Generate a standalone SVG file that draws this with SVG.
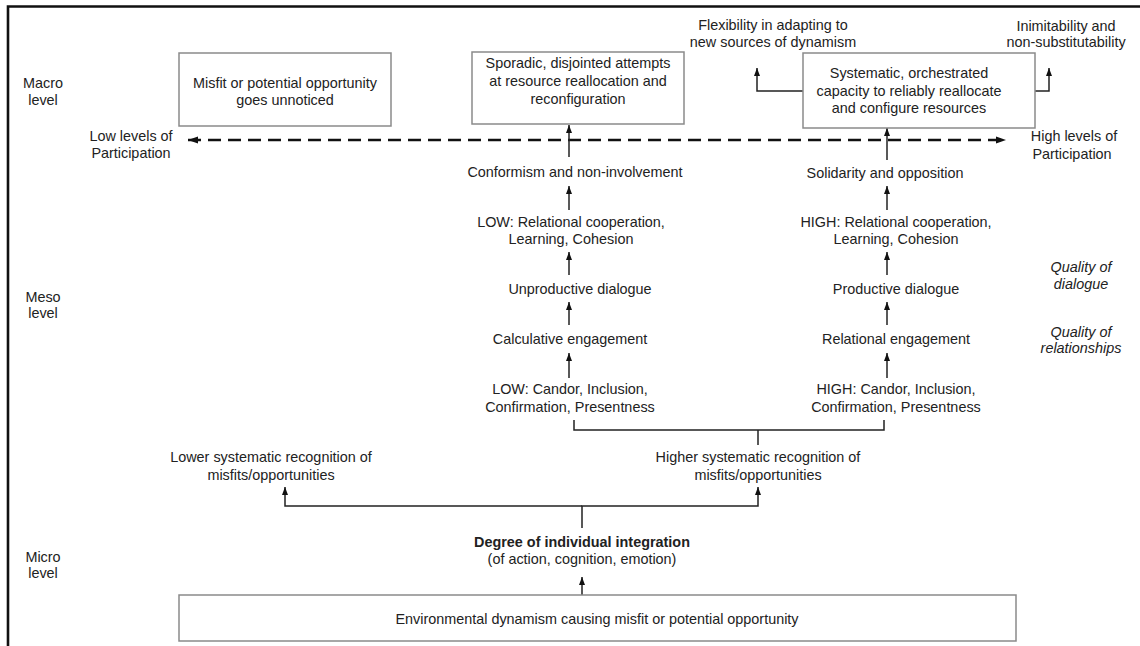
<svg xmlns="http://www.w3.org/2000/svg" width="1140" height="646" viewBox="0 0 1140 646">
<style>
text{font-family:"Liberation Sans",Arial,Helvetica,sans-serif;font-size:14.4px;fill:#222;text-anchor:middle}
.it{font-style:italic}
.b{font-weight:bold}
.box{fill:#fff;stroke:#8a8a8a;stroke-width:1.5}
.ln{fill:none;stroke:#222;stroke-width:1.5}
.dash{fill:none;stroke:#111;stroke-width:2.6;stroke-dasharray:13 7}
.frame{fill:none;stroke:#111;stroke-width:2.6}
</style>
<defs>
<marker id="ah" viewBox="0 0 8 8" refX="8" refY="4" markerWidth="8" markerHeight="8" markerUnits="userSpaceOnUse" orient="auto">
<path d="M0,1 L8,4 L0,7 z" fill="#111"/>
</marker>
<marker id="ahd" viewBox="0 0 10 8" refX="10" refY="4" markerWidth="10" markerHeight="8" markerUnits="userSpaceOnUse" orient="auto-start-reverse">
<path d="M0,0.5 L10,4 L0,7.5 z" fill="#111"/>
</marker>
</defs>
<rect width="1140" height="646" fill="#fff"/>
<path class="frame" d="M8,646 V6.5 H1140"/>

<g id="connectors">
<line class="dash" x1="188" y1="140" x2="1006" y2="140" marker-start="url(#ahd)" marker-end="url(#ahd)"/>
<path class="ln" d="M803,91 H757 V68" marker-end="url(#ah)"/>
<path class="ln" d="M1035,91 H1049 V68" marker-end="url(#ah)"/>
<path class="ln" d="M569,157 V125" marker-end="url(#ah)"/>
<path class="ln" d="M569,210 V186" marker-end="url(#ah)"/>
<path class="ln" d="M569,275 V252" marker-end="url(#ah)"/>
<path class="ln" d="M569,325 V302" marker-end="url(#ah)"/>
<path class="ln" d="M569,378 V353" marker-end="url(#ah)"/>
<path class="ln" d="M887,160 V128" marker-end="url(#ah)"/>
<path class="ln" d="M887,210 V186" marker-end="url(#ah)"/>
<path class="ln" d="M887,275 V252" marker-end="url(#ah)"/>
<path class="ln" d="M887,325 V302" marker-end="url(#ah)"/>
<path class="ln" d="M887,378 V353" marker-end="url(#ah)"/>
<path class="ln" d="M574,420 V430 H884 V420"/>
<path class="ln" d="M758,430 V445"/>
<path class="ln" d="M582,528 V506 H758 V487" marker-end="url(#ah)"/>
<path class="ln" d="M582,506 H285 V487" marker-end="url(#ah)"/>
<path class="ln" d="M582,596 V577" marker-end="url(#ah)"/>
</g>

<g id="level-macro"><text x="43" y="88">Macro</text><text x="43" y="105">level</text></g>
<g id="level-meso"><text x="43" y="302">Meso</text><text x="43" y="318">level</text></g>
<g id="level-micro"><text x="43" y="562">Micro</text><text x="43" y="578">level</text></g>

<g id="box-unnoticed">
<rect class="box" x="179" y="53" width="212" height="73"/>
<text x="285" y="88">Misfit or potential opportunity</text>
<text x="285" y="105">goes unnoticed</text>
</g>
<g id="box-sporadic">
<rect class="box" x="472" y="52" width="212" height="72"/>
<text x="578" y="68">Sporadic, disjointed attempts</text>
<text x="578" y="86">at resource reallocation and</text>
<text x="578" y="104">reconfiguration</text>
</g>
<g id="box-systematic">
<rect class="box" x="803" y="53" width="232" height="75"/>
<text x="909" y="78">Systematic, orchestrated</text>
<text x="909" y="96">capacity to reliably reallocate</text>
<text x="909" y="113">and configure resources</text>
</g>
<g id="flexibility"><text x="773" y="30">Flexibility in adapting to</text><text x="773" y="47">new sources of dynamism</text></g>
<g id="inimitability"><text x="1066" y="31">Inimitability and</text><text x="1066" y="47">non-substitutability</text></g>
<g id="low-participation"><text x="131" y="141">Low levels of</text><text x="131" y="158">Participation</text></g>
<g id="high-participation"><text x="1074" y="141">High levels of</text><text x="1072" y="159">Participation</text></g>

<g id="conformism"><text x="575" y="177">Conformism and non-involvement</text></g>
<g id="low-relational"><text x="571" y="227">LOW: Relational cooperation,</text><text x="571" y="244">Learning, Cohesion</text></g>
<g id="unproductive"><text x="580" y="294">Unproductive dialogue</text></g>
<g id="calculative"><text x="570" y="344">Calculative engagement</text></g>
<g id="low-candor"><text x="570" y="394">LOW: Candor, Inclusion,</text><text x="570" y="412">Confirmation, Presentness</text></g>

<g id="solidarity"><text x="885" y="178">Solidarity and opposition</text></g>
<g id="high-relational"><text x="896" y="227">HIGH: Relational cooperation,</text><text x="896" y="244">Learning, Cohesion</text></g>
<g id="productive"><text x="896" y="294">Productive dialogue</text></g>
<g id="relational-engagement"><text x="896" y="344">Relational engagement</text></g>
<g id="high-candor"><text x="896" y="394">HIGH: Candor, Inclusion,</text><text x="896" y="412">Confirmation, Presentness</text></g>

<g id="quality-dialogue"><text class="it" x="1081" y="272">Quality of</text><text class="it" x="1081" y="289">dialogue</text></g>
<g id="quality-relationships"><text class="it" x="1081" y="337">Quality of</text><text class="it" x="1081" y="353">relationships</text></g>

<g id="lower-recognition"><text x="271" y="462">Lower systematic recognition of</text><text x="271" y="480">misfits/opportunities</text></g>
<g id="higher-recognition"><text x="758" y="462">Higher systematic recognition of</text><text x="758" y="480">misfits/opportunities</text></g>

<g id="degree"><text class="b" x="582" y="547">Degree of individual integration</text><text x="582" y="564">(of action, cognition, emotion)</text></g>

<g id="environment">
<rect class="box" x="179" y="595" width="837" height="46"/>
<text x="597" y="624">Environmental dynamism causing misfit or potential opportunity</text>
</g>
</svg>
